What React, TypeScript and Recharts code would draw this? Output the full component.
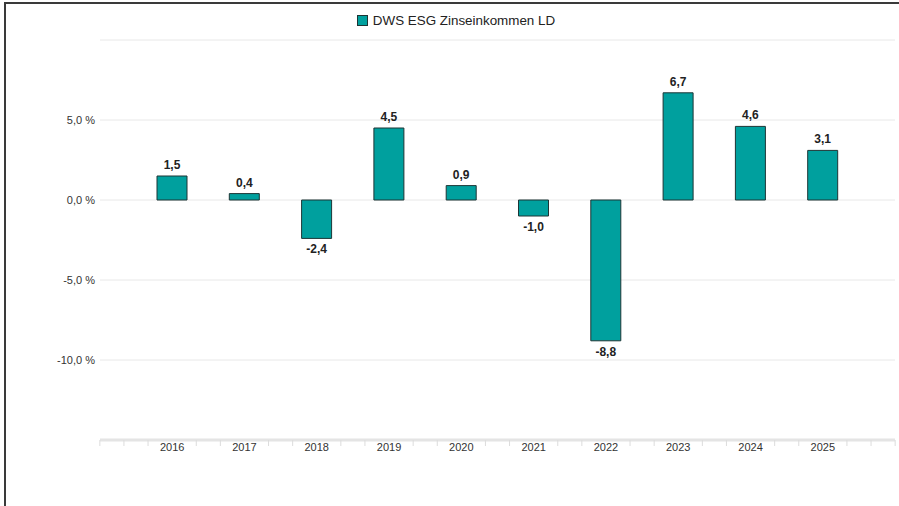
import { BarChart, Bar, XAxis, YAxis, CartesianGrid, Legend, LabelList } from 'recharts'

const years = ['2016', '2017', '2018', '2019', '2020', '2021', '2022', '2023', '2024', '2025']
const returns = [1.5, 0.4, -2.4, 4.5, 0.9, -1.0, -8.8, 6.7, 4.6, 3.1]
const yTicks = [-15, -10, -5, 0, 5, 10]
const seriesName = 'DWS ESG Zinseinkommen LD'

const data = years.map((year, i) => ({ year, value: returns[i] }))

const FILL = '#00a09e'
const STROKE = '#1d3535'
const FONT = '"Liberation Sans", Arial, Helvetica, sans-serif'

const W = 899
const H = 506
const Y_AXIS_W = 100
const RIGHT = 4
const PAD = 36
const PLOT_W = W - Y_AXIS_W - RIGHT
const BAND = (PLOT_W - 2 * PAD) / years.length
const LEGEND_H = 18

function fmtPct(v: number) {
  if (v === 10 || v === -15) return ''
  return v.toFixed(1).replace('.', ',') + ' %'
}

function XTick({ x, y, payload, index }: { x?: number; y?: number; payload?: { value: string }; index?: number }) {
  const cx = x ?? 0
  const top = y ?? 0
  const step = BAND / 3
  const marks = [cx - step, cx + step]
  if (index === 0) marks.push(cx - 2 * step, cx - 3 * step)
  if (index === years.length - 1) marks.push(cx + 2 * step, cx + 3 * step)
  return (
    <g>
      {marks.map((m, i) => (
        <line key={i} x1={m} x2={m} y1={top} y2={top + 6} stroke="#dcdcdc" strokeWidth={1} />
      ))}
      <text x={cx} y={top + 11} textAnchor="middle" fontSize={11} fill="#333" fontFamily={FONT}>
        {payload?.value}
      </text>
    </g>
  )
}

function ValueLabel(props: { x?: number; y?: number; width?: number; height?: number; value?: number }) {
  const x = Number(props.x ?? 0)
  const y = Number(props.y ?? 0)
  const w = Number(props.width ?? 0)
  const h = Number(props.height ?? 0)
  const v = Number(props.value ?? 0)
  const top = Math.min(y, y + h)
  const bottom = Math.max(y, y + h)
  const ty = v >= 0 ? top - 7 : bottom + 15
  return (
    <text x={x + w / 2} y={ty} textAnchor="middle" fontSize={12} fontWeight={600} fill="#222" fontFamily={FONT}>
      {v.toFixed(1).replace('.', ',')}
    </text>
  )
}

function LegendContent() {
  return (
    <div style={{ display: 'flex', justifyContent: 'center', alignItems: 'center', paddingLeft: 13, fontFamily: FONT, fontSize: 13.4, color: '#222' }}>
      <span style={{ width: 9, height: 9, background: FILL, border: `1px solid ${STROKE}`, marginRight: 5, display: 'inline-block' }} />
      <span>{seriesName}</span>
    </div>
  )
}

export default function App() {
  return (
    <div style={{ position: 'fixed', left: 0, top: 0, width: W, height: H, background: '#fff', overflow: 'hidden' }}>
      <div
        style={{
          position: 'absolute',
          left: 4,
          top: 2,
          width: W,
          height: H,
          borderLeft: '2px solid #3a3a3a',
          borderTop: '2px solid #3a3a3a',
        }}
      />
      <div style={{ position: 'absolute', left: 0, top: 0 }}>
        <BarChart width={W} height={H} data={data} margin={{ top: 40 - LEGEND_H, right: RIGHT, left: 0, bottom: 36 }}>
          <CartesianGrid vertical={false} stroke="#e8e8e8" />
          <XAxis
            dataKey="year"
            padding={{ left: PAD, right: PAD }}
            axisLine={{ stroke: '#e4e4e4', strokeWidth: 3 }}
            tickLine={false}
            tickSize={0}
            tickMargin={0}
            tick={<XTick />}
            interval={0}
            height={30}
          />
          <YAxis
            width={Y_AXIS_W}
            domain={[-15, 10]}
            ticks={yTicks}
            tickFormatter={fmtPct}
            axisLine={false}
            tickLine={false}
            tickSize={0}
            tickMargin={5}
            tick={{ fontSize: 11, fill: '#333', fontFamily: FONT }}
          />
          <Legend
            verticalAlign="top"
            content={<LegendContent />}
            wrapperStyle={{ position: 'absolute', top: 13, left: 0, width: W, height: LEGEND_H }}
          />
          <Bar dataKey="value" name={seriesName} fill={FILL} stroke={STROKE} strokeWidth={1} barSize={30} isAnimationActive={false}>
            <LabelList dataKey="value" content={<ValueLabel />} />
          </Bar>
        </BarChart>
      </div>
    </div>
  )
}
